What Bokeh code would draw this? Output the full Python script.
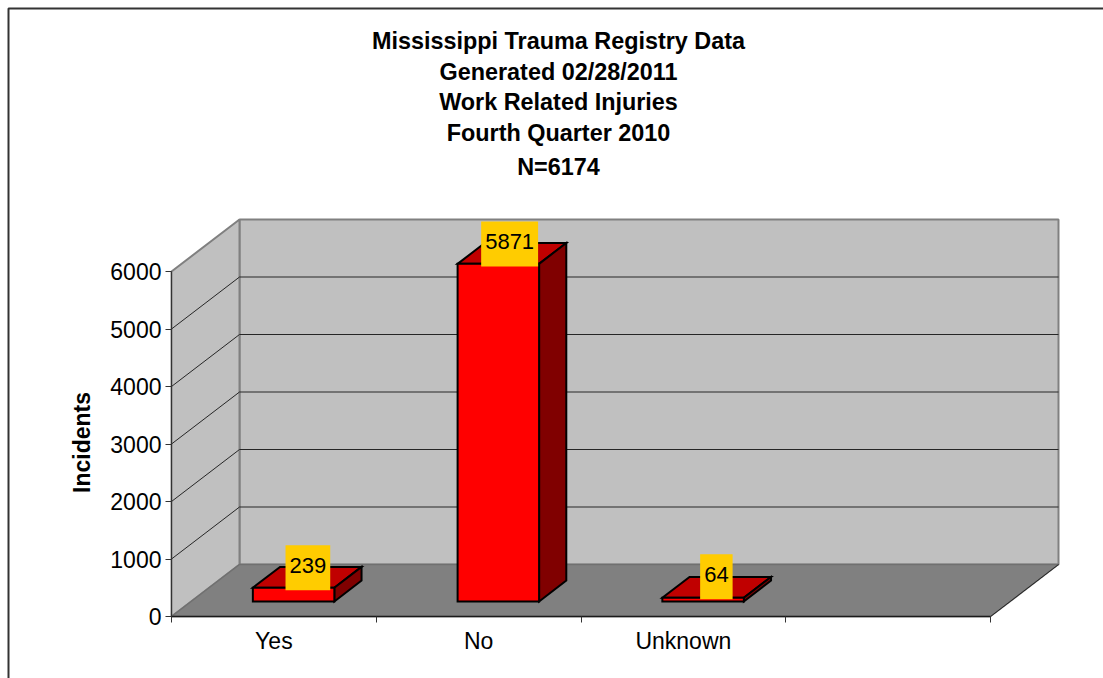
from bokeh.plotting import figure
from bokeh.embed import file_html
from bokeh.resources import INLINE
from bokeh.models import Range1d, FixedTicker, Label, BoxAnnotation
from bokeh.core.properties import value

categories = ["Yes", "No", "Unknown"]
incidents = [239, 5871, 64]
y_ticks = [0, 1000, 2000, 3000, 4000, 5000, 6000]
title_lines = ["Mississippi Trauma Registry Data", "Generated 02/28/2011",
               "Work Related Injuries", "Fourth Quarter 2010", "N=6174"]
title_page_y = [40, 71, 101, 132, 166]
label_dx = [0, -3, -1]
label_dy = [-9, -9, -10]

FONT = "Liberation Sans"
N_SLOTS = 4
Y_MAX = 6000
PX_PER_CAT = 204.75
PX_PER_VAL = 0.0575
DEPTH_X = 68 / PX_PER_CAT
DEPTH_Y = 52 / PX_PER_VAL
W, H = 1103, 678
AXIS_LEFT, AXIS_BOTTOM = 171, 616


def proj(cat, val, depth):
    return cat + depth * DEPTH_X, val + depth * DEPTH_Y


def face(points):
    pts = [proj(*q) for q in points]
    return [q[0] for q in pts], [q[1] for q in pts]


# the frame fills the page; the axes are pinned at cat=0 and value=0 inside it
p = figure(width=W, height=H, output_backend="svg", toolbar_location=None,
           x_range=Range1d(-AXIS_LEFT / PX_PER_CAT, (W - AXIS_LEFT) / PX_PER_CAT),
           y_range=Range1d(-(H - AXIS_BOTTOM) / PX_PER_VAL, AXIS_BOTTOM / PX_PER_VAL),
           frame_width=W, frame_height=H, min_border=0,
           background_fill_color="white", border_fill_color="white")
p.outline_line_color = None
p.grid.visible = False

# walls and floor
kw = dict(line_color="#808080", line_width=2)
xs, ys = face([(0, 0, 1), (N_SLOTS, 0, 1), (N_SLOTS, Y_MAX, 1), (0, Y_MAX, 1)])
p.patch(xs, ys, fill_color="#C0C0C0", **kw)
xs, ys = face([(0, 0, 0), (0, 0, 1), (0, Y_MAX, 1), (0, Y_MAX, 0)])
p.patch(xs, ys, fill_color="#C0C0C0", **kw)

# gridlines on the walls
grid_x, grid_y = [], []
for t in y_ticks[1:-1]:
    a, b = face([(0, t, 0), (0, t, 1), (N_SLOTS, t, 1)])
    grid_x.append(a)
    grid_y.append(b)
p.multi_line(grid_x, grid_y, line_color="#262626", line_width=1)

xs, ys = face([(0, 0, 0), (N_SLOTS, 0, 0), (N_SLOTS, 0, 1), (0, 0, 1)])
p.patch(xs, ys, fill_color="#808080", line_color="#707070", line_width=1.5)
xs, ys = face([(N_SLOTS, 0, 0), (N_SLOTS, 0, 1)])
p.line(xs, ys, line_color="#262626", line_width=1)

# bars
BAR = 0.199
D0, D1 = 0.29, 0.69
for i, v in enumerate(incidents):
    c = i + 0.5
    l, r = c - BAR, c + BAR
    style = dict(line_color="black", line_width=2, line_join="miter")
    xs, ys = face([(l, v, D0), (r, v, D0), (r, v, D1), (l, v, D1)])
    p.patch(xs, ys, fill_color="#C00000", **style)
    xs, ys = face([(r, 0, D0), (r, 0, D1), (r, v, D1), (r, v, D0)])
    p.patch(xs, ys, fill_color="#800000", **style)
    xs, ys = face([(l, 0, D0), (r, 0, D0), (r, v, D0), (l, v, D0)])
    p.patch(xs, ys, fill_color="#FF0000", **style)

# value labels
pos = [proj(i + 0.5, v, 0.5) for i, v in enumerate(incidents)]
p.text([q[0] for q in pos], [q[1] for q in pos], text=[str(v) for v in incidents],
       x_offset=label_dx, y_offset=label_dy,
       text_font=value(FONT), text_font_size="22px", text_color="black",
       text_align="center", text_baseline="middle",
       background_fill_color="#FFCC00", padding=(4, 4, 13, 17))

# axes
ya = p.yaxis[0]
ya.fixed_location = 0
ya.ticker = FixedTicker(ticks=y_ticks)
ya.bounds = (0, Y_MAX)
ya.axis_line_color = "#333333"
ya.major_tick_line_color = "#333333"
ya.major_tick_out = 6
ya.major_tick_in = 0
ya.minor_tick_line_color = None
ya.major_label_text_font = FONT
ya.major_label_text_font_size = "23px"
ya.major_label_text_color = "black"
ya.major_label_standoff = 4

xa = p.xaxis[0]
xa.fixed_location = 0
xa.ticker = FixedTicker(ticks=[i + 0.5 for i in range(len(categories))],
                        minor_ticks=list(range(N_SLOTS + 1)))
xa.major_label_overrides = {i + 0.5: c for i, c in enumerate(categories)}
xa.bounds = (0, N_SLOTS)
xa.axis_line_color = "#1a1a1a"
xa.axis_line_width = 1.5
xa.major_tick_line_color = None
xa.minor_tick_line_color = "#333333"
xa.minor_tick_out = 6
xa.minor_tick_in = 0
xa.major_label_text_font = FONT
xa.major_label_text_font_size = "23px"
xa.major_label_text_color = "black"
xa.major_label_standoff = 5

# title lines, centred over the chart area
for line, py in zip(title_lines, title_page_y):
    p.add_layout(Label(x=558, y=py, x_units="canvas", y_units="canvas", text=line,
                       text_font=FONT, text_font_style="bold", text_font_size="23.4px",
                       text_color="black", text_align="center", text_baseline="middle"))
p.add_layout(Label(x=81, y=442, x_units="canvas", y_units="canvas", text="Incidents", angle=90,
                   angle_units="deg",
                   text_font=FONT, text_font_style="bold", text_font_size="23px",
                   text_color="black", text_align="center", text_baseline="middle"))

# chart-area border, running off the page on the right and at the bottom
p.add_layout(BoxAnnotation(left=8, right=W + 50, top=8, bottom=H + 50,
                           left_units="canvas", right_units="canvas",
                           top_units="canvas", bottom_units="canvas",
                           fill_color=None, line_color="#333333", line_alpha=1.0, line_width=2))

open("out.html", "w").write(file_html(p, INLINE))
